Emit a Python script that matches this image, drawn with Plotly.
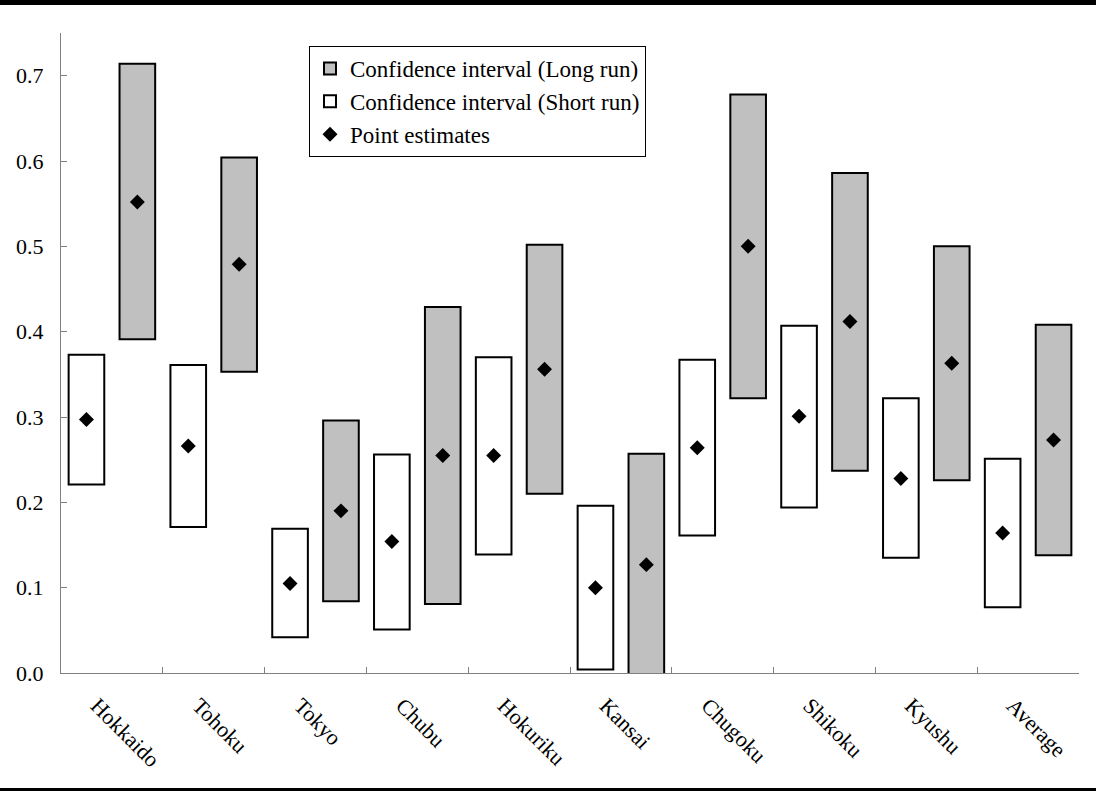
import plotly.graph_objects as go

regions = ["Hokkaido", "Tohoku", "Tokyo", "Chubu", "Hokuriku",
           "Kansai", "Chugoku", "Shikoku", "Kyushu", "Average"]

short_low = [0.221, 0.171, 0.042, 0.051, 0.139, 0.004, 0.161, 0.194, 0.135, 0.077]
short_high = [0.373, 0.361, 0.169, 0.256, 0.370, 0.196, 0.367, 0.407, 0.322, 0.251]
short_point = [0.297, 0.266, 0.105, 0.154, 0.255, 0.100, 0.264, 0.301, 0.228, 0.164]

long_low = [0.391, 0.353, 0.084, 0.081, 0.210, -0.003, 0.322, 0.237, 0.226, 0.138]
long_high = [0.714, 0.604, 0.296, 0.429, 0.502, 0.257, 0.678, 0.586, 0.500, 0.408]
long_point = [0.552, 0.479, 0.190, 0.255, 0.356, 0.127, 0.500, 0.412, 0.363, 0.273]

y_ticks = [0.0, 0.1, 0.2, 0.3, 0.4, 0.5, 0.6, 0.7]

FONT = "Liberation Serif"
GRAY = "#c0c0c0"

fig = go.Figure()

fig.add_trace(go.Bar(
    name="Confidence interval (Short run)",
    x=regions, y=[h - l for h, l in zip(short_high, short_low)], base=short_low,
    marker=dict(color="white", line=dict(color="black", width=2)),
    offsetgroup="short", legendrank=2, hoverinfo="skip",
))
fig.add_trace(go.Bar(
    name="Confidence interval (Long run)",
    x=regions, y=[h - l for h, l in zip(long_high, long_low)], base=long_low,
    marker=dict(color=GRAY, line=dict(color="black", width=2)),
    offsetgroup="long", legendrank=1, hoverinfo="skip",
))
fig.add_trace(go.Scatter(
    name="Point estimates", x=regions, y=short_point, mode="markers",
    marker=dict(symbol="diamond", size=11.5, color="black"),
    offsetgroup="short", legendrank=3,
))
fig.add_trace(go.Scatter(
    name="Point estimates", x=regions, y=long_point, mode="markers",
    marker=dict(symbol="diamond", size=11.5, color="black"),
    offsetgroup="long", showlegend=False,
))

fig.update_layout(
    width=1096, height=791,
    margin=dict(l=61, r=17, t=33, b=118),
    paper_bgcolor="white", plot_bgcolor="white",
    font=dict(family=FONT, size=22, color="black"),
    barmode="group", bargap=0.0, bargroupgap=0.3,
    scattermode="group", scattergap=0.0,
    legend=dict(
        x=(309 - 61) / 1018, y=(673 - 46) / 640, xanchor="left", yanchor="top",
        bordercolor="black", borderwidth=1, bgcolor="white",
        font=dict(family=FONT, size=23), traceorder="normal",
    ),
    showlegend=True,
    shapes=[
        dict(type="rect", xref="paper", yref="paper",
             x0=-0.1, x1=1.1, y0=1 + 28 / 640, y1=1 + 34 / 640,
             fillcolor="black", line=dict(width=0)),
        dict(type="rect", xref="paper", yref="paper",
             x0=-0.1, x1=1.1, y0=-(115 / 640), y1=-(119 / 640),
             fillcolor="black", line=dict(width=0)),
    ],
)

fig.update_xaxes(
    type="category", tickson="boundaries", ticks="inside", ticklen=6,
    tickcolor="#808080", showline=True, linecolor="#808080", linewidth=1,
    tickangle=45, showgrid=False, zeroline=False,
    ticklabelshift=-15, ticklabelstandoff=10,
    tickfont=dict(family=FONT, size=22),
)
fig.update_yaxes(
    range=[0, 0.75], tickvals=y_ticks, tickformat=".1f",
    ticks="inside", ticklen=6, tickcolor="#808080",
    showline=True, linecolor="#808080", linewidth=1,
    showgrid=False, zeroline=False, ticklabelstandoff=12,
    tickfont=dict(family=FONT, size=22),
)

fig.write_html("out.html", config={"displayModeBar": False},
               post_script="document.body.style.margin='0';")
